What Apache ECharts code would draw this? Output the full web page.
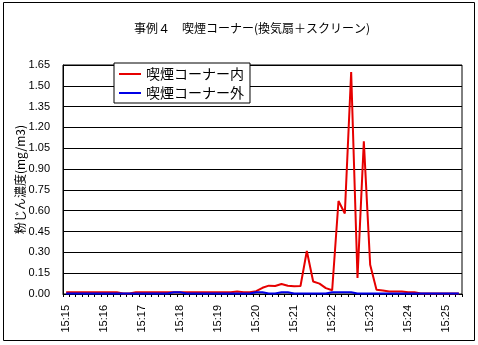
<!DOCTYPE html>
<html><head><meta charset="utf-8">
<script src="https://cdn.jsdelivr.net/npm/echarts@6/dist/echarts.min.js"></script>
<style>html,body{margin:0;padding:0;background:#fff}#c{width:478px;height:345px}</style>
</head><body><div id="c"></div>
<script>
const categories = [
'15:15:00','15:15:10','15:15:20','15:15:30','15:15:40','15:15:50',
'15:16:00','15:16:10','15:16:20','15:16:30','15:16:40','15:16:50',
'15:17:00','15:17:10','15:17:20','15:17:30','15:17:40','15:17:50',
'15:18:00','15:18:10','15:18:20','15:18:30','15:18:40','15:18:50',
'15:19:00','15:19:10','15:19:20','15:19:30','15:19:40','15:19:50',
'15:20:00','15:20:10','15:20:20','15:20:30','15:20:40','15:20:50',
'15:21:00','15:21:10','15:21:20','15:21:30','15:21:40','15:21:50',
'15:22:00','15:22:10','15:22:20','15:22:30','15:22:40','15:22:50',
'15:23:00','15:23:10','15:23:20','15:23:30','15:23:40','15:23:50',
'15:24:00','15:24:10','15:24:20','15:24:30','15:24:40','15:24:50',
'15:25:00','15:25:10','15:25:20'];
const insideValues = [
0.012,0.012,0.012,0.012,0.012,0.012,0.012,0.012,0.012,0.004,
0.004,0.012,0.012,0.012,0.012,0.012,0.012,0.012,0.012,0.012,
0.012,0.012,0.012,0.012,0.012,0.012,0.012,0.018,0.012,0.012,
0.020,0.045,0.060,0.058,0.072,0.060,0.055,0.058,0.310,0.090,
0.075,0.042,0.027,0.670,0.580,1.600,0.115,1.100,0.210,0.030,
0.025,0.018,0.018,0.018,0.012,0.012,0.004,0.004,0.004,0.004,
0.004,0.004,0.004];
const outsideValues = [
0.004,0.004,0.004,0.004,0.004,0.004,0.004,0.004,0.004,0.004,
0.004,0.004,0.004,0.004,0.004,0.004,0.004,0.012,0.012,0.004,
0.004,0.004,0.004,0.004,0.004,0.004,0.004,0.004,0.004,0.004,
0.012,0.012,0.004,0.004,0.012,0.012,0.004,0.004,0.004,0.004,
0.004,0.004,0.012,0.012,0.012,0.012,0.004,0.004,0.004,0.004,
0.004,0.004,0.004,0.004,0.004,0.004,0.004,0.004,0.004,0.004,
0.004,0.004,0.004];
const seriesNames = ['喫煙コーナー内','喫煙コーナー外'];
const titleText = '事例４　喫煙コーナー(換気扇＋スクリーン)';
const yAxisName = '粉じん濃度(mg/m3)';

const jp = '"Noto Sans CJK JP", sans-serif';
const num = '"Liberation Sans", Arial, sans-serif';
const chart = echarts.init(document.getElementById('c'), null, {renderer:'canvas'});
chart.setOption({
  animation: false,
  backgroundColor: '#fff',
  graphic: [{type:'rect', shape:{x:3.5,y:2.5,width:471,height:338}, style:{fill:'none',stroke:'#000',lineWidth:1}, z:-1}],
  title: {text: titleText, left: 247, top: 17, textAlign:'center',
    textStyle:{fontFamily: jp, fontSize: 12, fontWeight:'normal', color:'#000'}},
  legend: {
    data: seriesNames.map(n => ({name:n, icon:'rect'})), orient:'vertical', left: 114, top: 63,
    backgroundColor:'#fff', borderColor:'#000', borderWidth:1,
    padding:[4,6,3,5], itemGap:5, itemWidth:22, itemHeight:2,
    textStyle:{fontFamily: jp, fontSize:14, color:'#000', lineHeight:14}
  },
  grid: {left:63, top:65, right:16, bottom:51, show:true, borderColor:'#000', borderWidth:1, backgroundColor:'#fff'},
  xAxis: {
    type:'category', data: categories, boundaryGap:true,
    axisLine:{lineStyle:{color:'#000', width:1}},
    axisTick:{show:true, interval:0, length:3, lineStyle:{color:'#000'}},
    axisLabel:{interval:5, rotate:90, margin:11, fontFamily: num, fontSize:11, color:'#000',
      formatter: v => v.slice(0,5)},
    splitLine:{show:false}
  },
  yAxis: {
    type:'value', min:0, max:1.65, interval:0.15,
    name: yAxisName, nameLocation:'middle', nameGap:37, nameRotate:90, nameMoveOverlap:false,
    nameTextStyle:{fontFamily: jp, fontSize:12, color:'#000'},
    axisLine:{show:true, lineStyle:{color:'#000'}},
    axisTick:{show:false},
    axisLabel:{margin:13, fontFamily: num, fontSize:11, color:'#000', formatter: v => v.toFixed(2)},
    splitLine:{show:true, lineStyle:{color:'#000', width:1}}
  },
  series: [
    {name: seriesNames[0], type:'line', data: insideValues, symbol:'none',
     lineStyle:{color:'#e60000', width:2}, itemStyle:{color:'#e60000'}, z:2},
    {name: seriesNames[1], type:'line', data: outsideValues, symbol:'none',
     lineStyle:{color:'#0000e6', width:2}, itemStyle:{color:'#0000e6'}, z:3}
  ]
});
</script></body></html>
